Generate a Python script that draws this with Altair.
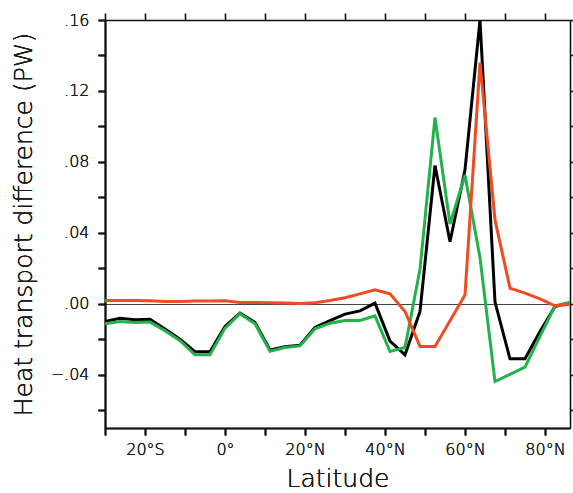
import altair as alt
import pandas as pd

lat = [-30.0, -26.25, -22.5, -18.75, -15.0, -11.25, -7.5, -3.75, 0.0, 3.75,
       7.5, 11.25, 15.0, 18.75, 22.5, 26.25, 30.0, 33.75, 37.5, 41.25,
       45.0, 48.75, 52.5, 56.25, 60.0, 63.75, 67.5, 71.25, 75.0, 78.75,
       82.5, 86.25]

black = [-0.0100, -0.0081, -0.0090, -0.0087, -0.0142, -0.0200, -0.0270, -0.0270,
         -0.0128, -0.0053, -0.0105, -0.0260, -0.0242, -0.0233, -0.0133, -0.0094,
         -0.0058, -0.0040, 0.0004, -0.0210, -0.0287, -0.0043, 0.0780, 0.0350,
         0.0755, 0.1600, 0.0010, -0.0310, -0.0310, -0.0156, -0.0015, 0.0007]

green = [-0.0113, -0.0100, -0.0105, -0.0103, -0.0152, -0.0208, -0.0287, -0.0287,
         -0.0137, -0.0056, -0.0113, -0.0267, -0.0246, -0.0237, -0.0141, -0.0109,
         -0.0094, -0.0094, -0.0068, -0.0269, -0.0246, 0.0195, 0.1050, 0.0450,
         0.0725, 0.0260, -0.0438, -0.0398, -0.0357, -0.0184, -0.0011, 0.0007]

red = [0.0019, 0.0019, 0.0019, 0.0018, 0.0013, 0.0013, 0.0016, 0.0016,
       0.0017, 0.0007, 0.0008, 0.0006, 0.0004, 0.0002, 0.0006, 0.0019,
       0.0034, 0.0056, 0.0079, 0.0056, -0.0043, -0.0240, -0.0240, -0.0095,
       0.0050, 0.1360, 0.0473, 0.0088, 0.0060, 0.0028, -0.0011, -0.0002]

x_ticks = [-30, -20, -10, 0, 10, 20, 30, 40, 50, 60, 70, 80]
y_ticks = [-0.06, -0.04, -0.02, 0.0, 0.02, 0.04, 0.06, 0.08, 0.10, 0.12, 0.14, 0.16]

df = pd.DataFrame({"lat": lat, "black": black, "green": green, "red": red})

FONT = "DejaVu Sans"
TXT = "#1a1a1a"
W = 200

xscale = alt.Scale(domain=[-30, 86.25], nice=False, zero=False)
yscale = alt.Scale(domain=[-0.07, 0.16], nice=False, zero=False)

x_label_expr = ("(datum.value % 20 != 0) ? '' : (datum.value == 0 ? '0°' : "
                "(datum.value < 0 ? abs(datum.value) + '°S' : datum.value + '°N'))")
y_label_expr = ("(round(abs(datum.value) * 100) % 4 != 0) ? '' : "
                "((datum.value < -0.000001 ? '−' : '') + "
                "replace(format(abs(datum.value), '.2f'), '0.', '.'))")

x_bottom = alt.Axis(values=x_ticks, labelExpr=x_label_expr, title="Latitude",
                    orient="bottom", grid=False, tickSize=7, labelPadding=6,
                    titlePadding=9, labelFontSize=16, titleFontSize=25,
                    labelFont=FONT, titleFont=FONT, labelColor=TXT, titleColor=TXT,
                    labelFontWeight=W, titleFontWeight=W,
                    domainColor="#111", domainWidth=1.6,
                    tickColor="#111", tickWidth=1.6, labelFlush=False)
y_left = alt.Axis(values=y_ticks, labelExpr=y_label_expr,
                  title="Heat transport difference (PW)", orient="left",
                  grid=True,
                  gridColor=alt.condition("abs(datum.value) < 0.000001",
                                          alt.value("#444444"), alt.value("transparent")),
                  gridWidth=1, tickSize=7, labelPadding=9, titlePadding=14,
                  labelFontSize=16, titleFontSize=25, labelFont=FONT, titleFont=FONT,
                  labelColor=TXT, titleColor=TXT,
                  labelFontWeight=W, titleFontWeight=W,
                  domainColor="#111", domainWidth=1.6, tickColor="#111",
                  tickWidth=1.6, labelFlush=False)
x_top = alt.Axis(values=x_ticks, labels=False, title=None, orient="top", grid=False,
                 tickSize=7, domainColor="#111", domainWidth=1.6, tickColor="#111",
                 tickWidth=1.6)
y_right = alt.Axis(values=y_ticks, labels=False, title=None, orient="right", grid=False,
                   tickSize=7, domainColor="#111", domainWidth=1.6, tickColor="#111",
                   tickWidth=1.6)

base = alt.Chart(df)


def series(field, color):
    return base.mark_line(color=color, strokeWidth=3, strokeJoin="miter",
                          clip=True).encode(
        x=alt.X("lat:Q", scale=xscale, axis=x_bottom),
        y=alt.Y(f"{field}:Q", scale=yscale, axis=y_left),
    )


frame = base.mark_line(opacity=0).encode(
    x=alt.X("lat:Q", scale=xscale, axis=x_top),
    y=alt.Y("black:Q", scale=yscale, axis=y_right),
)

chart = alt.layer(
    series("black", "#000000"),
    series("green", "#22B24C"),
    series("red", "#F04B23"),
    frame,
).resolve_axis(x="independent", y="independent").properties(
    width=465, height=408,
    autosize=alt.AutoSizeParams(type="none"),
    padding={"left": 105, "top": 20, "right": 3, "bottom": 65},
).configure_view(strokeWidth=0).configure(background="white")

chart.save("out.html", embed_options={"renderer": "svg", "actions": False})
